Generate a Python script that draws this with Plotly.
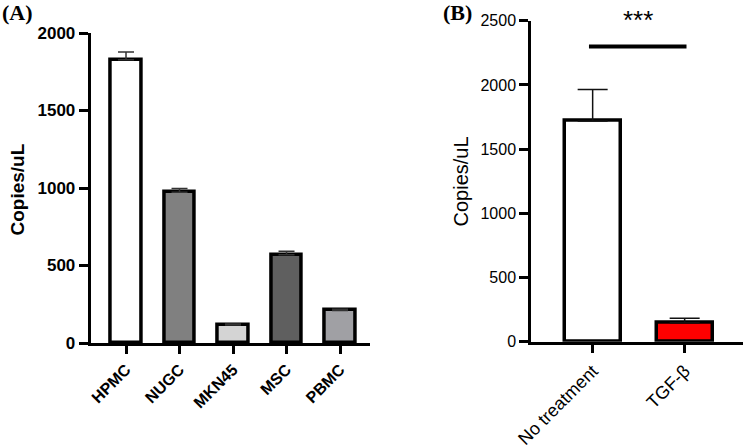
import plotly.graph_objects as go

W, H = 749, 448

# Panel A data
cats_a = ["HPMC", "NUGC", "MKN45", "MSC", "PBMC"]
vals_a = [1828, 972, 116, 570, 210]
errs_a = [50, 25, 6, 22, 8]
fills_a = ["#ffffff", "#808080", "#d4d4d4", "#5f5f5f", "#a0a0a4"]
yticks_a = [0, 500, 1000, 1500, 2000]

# Panel B data
cats_b = ["No treatment", "TGF-β"]
vals_b = [1718, 147]
errs_b = [246, 35]
fills_b = ["#ffffff", "#ff0000"]
yticks_b = [0, 500, 1000, 1500, 2000, 2500]
sig_level = 2300
sig_text = "***"

def px_x(p):
    return p / W

def px_y(p):
    return 1 - p / H

fig = go.Figure()

fig.add_trace(go.Bar(
    x=list(range(len(cats_a))), y=vals_a, width=0.57,
    marker=dict(color=fills_a, line=dict(color="black", width=3.5)),
    error_y=dict(type="data", symmetric=False, array=errs_a,
                 arrayminus=[0] * len(errs_a), width=8, thickness=1.5, color="#333333"),
    xaxis="x", yaxis="y", showlegend=False,
))

fig.add_trace(go.Bar(
    x=list(range(len(cats_b))), y=vals_b, width=0.61,
    marker=dict(color=fills_b, line=dict(color="black", width=3.5)),
    error_y=dict(type="data", symmetric=False, array=errs_b,
                 arrayminus=[0] * len(errs_b), width=15, thickness=1.5, color="#111111"),
    xaxis="x2", yaxis="y2", showlegend=False,
))

font_b = dict(family="Liberation Sans, Arial", size=16, color="black")

fig.update_layout(
    width=W, height=H,
    margin=dict(l=0, r=0, t=0, b=0),
    paper_bgcolor="white", plot_bgcolor="white",
    bargap=0,
    xaxis=dict(
        domain=[px_x(90.7), px_x(370)], anchor="y", automargin=False,
        range=[-0.66, 4.56], tickmode="array",
        tickvals=list(range(len(cats_a))), ticktext=cats_a,
        tickangle=-45, ticks="outside", ticklen=8, tickwidth=2.5, tickcolor="black",
        showline=True, linecolor="black", linewidth=3, showgrid=False, zeroline=False,
        tickfont=dict(family="Liberation Sans, Arial", size=16, color="black", weight="bold"),
    ),
    yaxis=dict(
        domain=[px_y(343), px_y(33)], anchor="x", automargin=False,
        range=[0, 2000], tickmode="array", tickvals=yticks_a,
        ticks="outside", ticklen=9, tickwidth=2.5, tickcolor="black",
        showline=True, linecolor="black", linewidth=3, showgrid=False, zeroline=False,
        tickfont=dict(family="Liberation Sans, Arial", size=17, color="black", weight="bold"),
    ),
    xaxis2=dict(
        domain=[px_x(531), px_x(743)], anchor="y2", automargin=False,
        range=[-0.67, 1.634], tickmode="array",
        tickvals=list(range(len(cats_b))), ticktext=cats_b,
        tickangle=-45, ticks="outside", ticklen=9, tickwidth=2.5, tickcolor="black",
        showline=True, linecolor="black", linewidth=2.5, showgrid=False, zeroline=False,
        tickfont=dict(family="Liberation Sans, Arial", size=18, color="black"),
    ),
    yaxis2=dict(
        domain=[px_y(341.7), px_y(20.7)], anchor="x2", automargin=False,
        range=[0, 2500], tickmode="array", tickvals=yticks_b,
        ticks="outside", ticklen=9, tickwidth=2.5, tickcolor="black",
        showline=True, linecolor="black", linewidth=2.5, showgrid=False, zeroline=False,
        tickfont=font_b,
    ),
)

fig.add_shape(type="line", xref="x2", yref="y2", x0=-0.04, x1=1.02,
              y0=sig_level, y1=sig_level, line=dict(color="black", width=4))

annotations = [
    dict(text="Copies/uL", x=px_x(17.5), y=px_y(190), xref="paper", yref="paper",
         textangle=-90, showarrow=False, xanchor="center", yanchor="middle",
         font=dict(family="Liberation Sans, Arial", size=19, color="black", weight="bold")),
    dict(text="Copies/uL", x=px_x(460.5), y=px_y(182), xref="paper", yref="paper",
         textangle=-90, showarrow=False, xanchor="center", yanchor="middle",
         font=dict(family="Liberation Sans, Arial", size=20, color="black")),
    dict(text="(A)", x=px_x(0), y=px_y(-2), xref="paper", yref="paper",
         showarrow=False, xanchor="left", yanchor="top",
         font=dict(family="Liberation Serif, Times New Roman", size=22, color="black", weight="bold")),
    dict(text="(B)", x=px_x(441), y=px_y(-2), xref="paper", yref="paper",
         showarrow=False, xanchor="left", yanchor="top",
         font=dict(family="Liberation Serif, Times New Roman", size=22, color="black", weight="bold")),
    dict(text=sig_text, x=px_x(638), y=px_y(3), xref="paper", yref="paper",
         showarrow=False, xanchor="center", yanchor="top",
         font=dict(family="Liberation Sans, Arial", size=26, color="black")),
]
fig.update_layout(annotations=annotations)

fig.write_html(
    "out.html",
    config={"displayModeBar": False},
    post_script="document.body.style.margin='0';document.body.style.overflow='hidden';",
)
